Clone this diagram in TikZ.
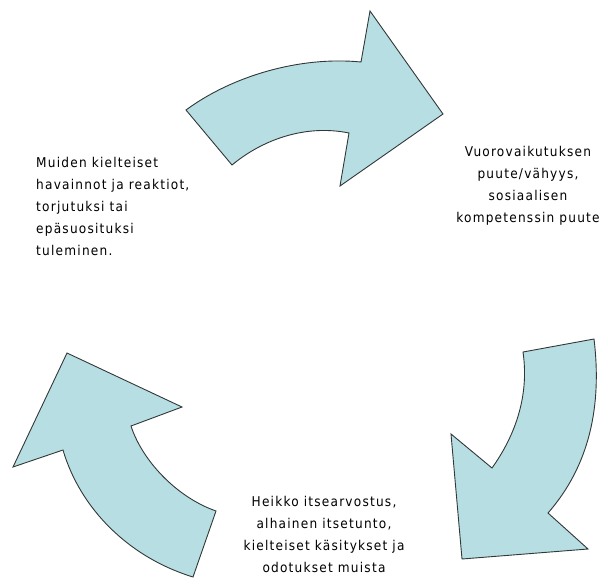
\documentclass[tikz,border=0pt]{standalone}
\usepackage{fontspec}
\setmainfont{DejaVu Sans Condensed}
\newfontfamily\lblfont[LetterSpace=9]{DejaVu Sans Condensed}
\begin{document}
\begin{tikzpicture}[x=1pt,y=-1pt,
  arrowshape/.style={fill=arrowfill,draw=arrowline,line width=0.9pt,line join=miter},
  label/.style={inner sep=0pt,font=\lblfont\fontsize{13.5}{22}\selectfont,text=black}]
\definecolor{arrowfill}{RGB}{183,223,227}
\definecolor{arrowline}{RGB}{50,55,55}
\useasboundingbox (0,0) rectangle (608,587);
% top arrow
\draw[arrowshape] (186,110) .. controls (232,76) and (300,56) .. (361,62)
  -- (370,11) -- (443,114) -- (340,186) -- (349,133)
  .. controls (305,124) and (262,140) .. (232,165) -- cycle;
% right arrow
\draw[arrowshape] (523,352) -- (594,339)
  .. controls (602,405) and (590,465) .. (548,513)
  -- (588,549) -- (462,559) -- (451,434) -- (492,468)
  .. controls (512,440) and (530,400) .. cycle;
% left arrow
\draw[arrowshape] (193,577) -- (216,511)
  .. controls (176,497) and (142,460) .. (131,426)
  -- (182,407) -- (67,353) -- (13,467) -- (63,450)
  .. controls (80,508) and (128,557) .. cycle;
\node[label,anchor=north west,align=left] (t1) at (36,157)
  {Muiden kielteiset\\havainnot ja reaktiot,\\torjutuksi tai\\epäsuosituksi\\tuleminen.};
\node[label,anchor=north,align=center] (t2) at (528,146)
  {Vuorovaikutuksen\\puute/vähyys,\\sosiaalisen\\kompetenssin puute};
\node[label,anchor=north,align=center] (t3) at (324,496)
  {Heikko itsearvostus,\\alhainen itsetunto,\\kielteiset käsitykset ja\\odotukset muista};
\end{tikzpicture}
\end{document}
